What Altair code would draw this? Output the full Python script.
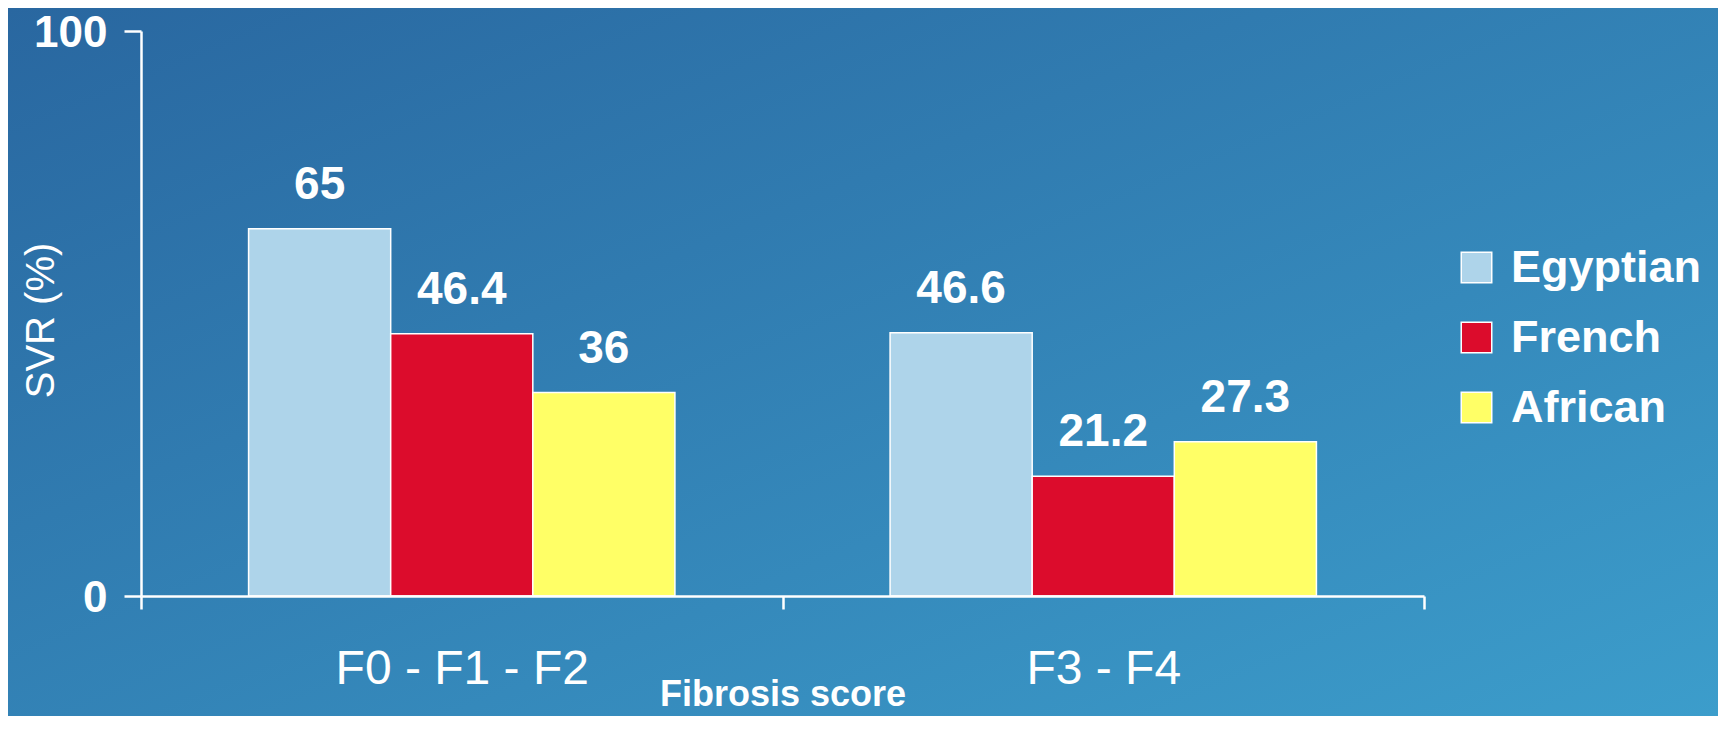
import altair as alt
import pandas as pd

groups = ["F0 - F1 - F2", "F3 - F4"]
populations = ["Egyptian", "French", "African"]
svr_f012 = [65, 46.4, 36]
svr_f34 = [46.6, 21.2, 27.3]
labels_f012 = ["65", "46.4", "36"]
labels_f34 = ["46.6", "21.2", "27.3"]
colors = ["#AED4EA", "#DC0C2C", "#FFFF66"]

rows = []
for g, vals, labs in [(groups[0], svr_f012, labels_f012), (groups[1], svr_f34, labels_f34)]:
    for p, v, l in zip(populations, vals, labs):
        rows.append({"group": g, "population": p, "svr": v, "label": l})
df = pd.DataFrame(rows)

W, H = 1283, 565
PL, PT, PR, PB = 133, 23, 294, 120
FONT = "Liberation Sans"

bg = alt.Chart(pd.DataFrame({"a": [0]})).mark_rect(
    clip=False,
    color=alt.LinearGradient(
        gradient="linear",
        x1=0, y1=0, x2=1, y2=1,
        stops=[alt.GradientStop(color="#2967A0", offset=0),
               alt.GradientStop(color="#3C9DCB", offset=1)],
    ),
).encode(
    x=alt.value(-PL), x2=alt.value(W + PR),
    y=alt.value(-PT), y2=alt.value(H + PB),
)

x_enc = alt.X(
    "group:N", sort=groups,
    scale=alt.Scale(paddingInner=0, paddingOuter=0),
    title="Fibrosis score",
    axis=alt.Axis(
        zindex=1, tickBand="extent", domainColor="white", domainWidth=2.5,
        tickColor="white", tickWidth=2.5, tickSize=13,
        labelColor="white", labelFont=FONT, labelFontSize=48, labelFontWeight="normal",
        labelPadding=36, labelAngle=0, labelLimit=800,
        titleColor="white", titleFont=FONT, titleFontSize=36, titleFontWeight="bold",
        titleY=81, titleBaseline="top",
    ),
)
xoff_enc = alt.XOffset("population:N", sort=populations,
                       scale=alt.Scale(paddingOuter=0.757, paddingInner=0))
y_enc = alt.Y(
    "svr:Q",
    scale=alt.Scale(domain=[0, 100], nice=False),
    title="SVR (%)",
    axis=alt.Axis(
        zindex=1, values=[0, 100], grid=False, domainColor="white", domainWidth=2.5,
        tickColor="white", tickWidth=2.5, tickSize=17,
        labelColor="white", labelFont=FONT, labelFontSize=44, labelFontWeight="bold",
        labelPadding=17, labelOffset=2,
        titleColor="white", titleFont=FONT, titleFontSize=40, titleFontWeight="normal",
        titleX=-100, titleY=289, titleAlign="center", titleBaseline="middle",
    ),
)

bars = alt.Chart(df).mark_bar(stroke="white", strokeWidth=1.5).encode(
    x=x_enc, xOffset=xoff_enc, y=y_enc,
    color=alt.Color(
        "population:N", sort=populations,
        scale=alt.Scale(domain=populations, range=colors),
        legend=alt.Legend(
            title=None, orient="none", legendX=1313, legendY=214,
            symbolType="square", symbolSize=930, symbolStrokeColor="white",
            symbolStrokeWidth=1.5, symbolOpacity=1,
            labelColor="white", labelFont=FONT, labelFontSize=45, labelFontWeight="bold",
            labelOffset=12, rowPadding=24, labelLimit=400,
        ),
    ),
)

text = alt.Chart(df).mark_text(
    color="white", font=FONT, fontSize=46, fontWeight="bold",
    baseline="alphabetic", align="center", dy=-30,
).encode(x=x_enc, xOffset=xoff_enc, y=y_enc, text="label:N")

chart = alt.layer(bg, bars, text).properties(
    width=W, height=H,
    autosize=alt.AutoSizeParams(type="none"),
    padding={"left": PL, "top": PT, "right": PR, "bottom": PB},
    background="#3282B6",
).configure_view(stroke=None)

chart.save("out.html", embed_options={"renderer": "svg", "actions": False})
